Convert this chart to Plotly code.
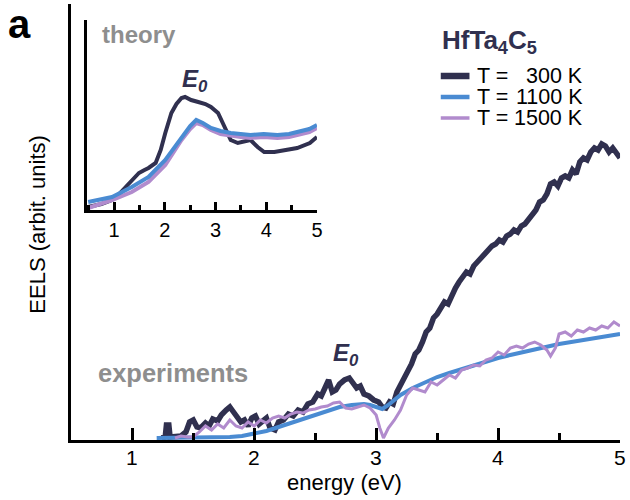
import plotly.graph_objects as go

W, H = 630, 500

# ---------------- data ----------------
series_names = ["T =   300 K", "T = 1100 K", "T = 1500 K"]
series_temps = ["300 K", "1100 K", "1500 K"]
colors = ["#30304f", "#4a8bd2", "#b18bcd"]

exp_dark_E = [1.24, 1.27, 1.28, 1.30, 1.31, 1.36, 1.40, 1.44, 1.47, 1.50, 1.53, 1.56, 1.60, 1.63, 1.66, 1.70,
              1.73, 1.77, 1.80, 1.83, 1.86, 1.89, 1.92, 1.95, 1.98, 2.01, 2.04, 2.07, 2.10, 2.13, 2.17, 2.20,
              2.24, 2.28, 2.32, 2.36, 2.40, 2.44, 2.48, 2.52, 2.55, 2.58, 2.61, 2.64, 2.67, 2.70, 2.74, 2.78,
              2.81, 2.84, 2.87, 2.90, 2.94, 2.98, 3.02, 3.05, 3.08, 3.11, 3.14, 3.17, 3.20, 3.23, 3.26, 3.29,
              3.32, 3.35, 3.38, 3.41, 3.44, 3.47, 3.50, 3.53, 3.56, 3.59, 3.62, 3.65, 3.68, 3.71, 3.74, 3.77,
              3.80, 3.83, 3.86, 3.89, 3.92, 3.95, 3.98, 4.01, 4.04, 4.07, 4.10, 4.13, 4.16, 4.19, 4.22, 4.25,
              4.28, 4.31, 4.34, 4.37, 4.40, 4.43, 4.46, 4.49, 4.52, 4.55, 4.58, 4.61, 4.64, 4.67, 4.70, 4.73,
              4.76, 4.79, 4.82, 4.85, 4.88, 4.91, 4.94, 4.97, 5.00]
exp_dark = [2, 3, 15, 15, 3, 3, 4, 8, 18, 20, 13, 12, 17, 14, 21, 19,
            25, 30, 33, 28, 23, 18, 20, 14, 22, 24, 16, 20, 22, 12, 10, 18,
            20, 26, 24, 30, 28, 36, 38, 46, 44, 52, 60, 48, 50, 56, 60, 62,
            56, 52, 54, 46, 44, 40, 38, 33, 32, 38, 36, 48, 55, 62, 70, 76,
            86, 90, 98, 108, 112, 122, 126, 132, 138, 136, 146, 152, 158, 164, 168, 166,
            174, 178, 182, 188, 190, 194, 196, 200, 198, 204, 206, 210, 208, 214, 216, 220,
            224, 230, 238, 240, 246, 256, 258, 254, 262, 264, 262, 270, 266, 278, 282, 280,
            288, 292, 290, 296, 294, 288, 292, 286, 282]

exp_blue_E = [1.20, 1.30, 1.40, 1.50, 1.60, 1.70, 1.80, 1.90, 2.00, 2.10, 2.20, 2.30, 2.40, 2.50, 2.60,
              2.70, 2.80, 2.90, 2.95, 3.00, 3.05, 3.10, 3.15, 3.20, 3.30, 3.40, 3.50, 3.60, 3.70, 3.80,
              3.90, 4.00, 4.10, 4.20, 4.30, 4.40, 4.50, 4.60, 4.70, 4.80, 4.90, 5.00]
exp_blue = [2, 2, 2, 2, 3, 3, 3, 4, 6, 9, 13, 17, 21, 26, 30,
            33, 35, 36, 35, 33, 31, 35, 40, 45, 52, 58, 63, 67, 71, 75,
            78, 82, 85, 88, 90, 93, 96, 98, 100, 103, 104, 106]

exp_purple_E = [1.35, 1.40, 1.45, 1.50, 1.55, 1.60, 1.65, 1.70, 1.75, 1.80, 1.85, 1.90, 1.95, 2.00, 2.05,
                2.10, 2.15, 2.20, 2.25, 2.30, 2.35, 2.40, 2.45, 2.50, 2.55, 2.60, 2.65, 2.70, 2.75, 2.80,
                2.85, 2.90, 2.95, 3.00, 3.03, 3.06, 3.10, 3.15, 3.20, 3.25, 3.30, 3.35, 3.40, 3.45, 3.50,
                3.55, 3.60, 3.65, 3.70, 3.75, 3.80, 3.85, 3.90, 3.95, 4.00, 4.05, 4.10, 4.15, 4.20, 4.25,
                4.30, 4.35, 4.40, 4.43, 4.47, 4.50, 4.55, 4.60, 4.65, 4.70, 4.75, 4.80, 4.85, 4.90, 4.95, 5.00]
exp_purple = [2, 4, 3, 3, 8, 14, 10, 16, 12, 20, 14, 12, 18, 14, 20,
              17, 22, 24, 22, 26, 28, 27, 30, 31, 33, 34, 37, 38, 32, 31,
              33, 35, 32, 25, 12, 2, 12, 20, 30, 45, 52, 50, 48, 58, 55,
              60, 65, 62, 70, 72, 75, 74, 80, 82, 88, 85, 92, 94, 92, 96,
              98, 95, 90, 84, 92, 106, 108, 104, 110, 108, 112, 110, 114, 112, 118, 114]

th_dark_E = [0.49, 0.75, 0.96, 1.10, 1.23, 1.36, 1.49, 1.60, 1.68, 1.82, 1.92, 2.01, 2.13, 2.23, 2.33, 2.40,
             2.52, 2.66, 2.80, 2.91, 3.05, 3.18, 3.30, 3.44, 3.56, 3.69, 3.83, 3.96, 4.16, 4.41, 4.61, 4.86, 5.00]
th_dark = [3, 6, 10, 16, 23, 30, 37, 40, 42, 47, 60, 77, 97, 106, 112, 113,
           110, 108, 106, 103, 97, 83, 70, 67, 68, 70, 63, 58, 58, 60, 62, 67, 73]

th_blue_E = [0.49, 0.96, 1.35, 1.68, 2.01, 2.33, 2.50, 2.62, 2.75, 2.91, 3.10, 3.30, 3.50, 3.69, 3.95, 4.22,
             4.45, 4.61, 4.85, 5.00]
th_blue = [8, 13, 23, 33, 50, 73, 84, 90, 87, 82, 79, 77, 76, 75, 76, 75, 76, 78, 81, 85]

th_purple_E = [0.49, 0.96, 1.35, 1.68, 2.01, 2.33, 2.50, 2.62, 2.75, 2.91, 3.10, 3.30, 3.50, 3.69, 3.95, 4.22,
               4.45, 4.61, 4.85, 5.00]
th_purple = [2, 10, 18, 28, 45, 70, 81, 87, 85, 80, 76, 74, 73, 72, 73, 72, 73, 75, 78, 82]

x_ticks = [1, 2, 3, 4, 5]
x_ticklabels = ["1", "2", "3", "4", "5"]

FONT = "Liberation Sans"


def px(x):
    return x / W


def py(y):
    return 1 - y / H


fig = go.Figure()

main_x = [exp_dark_E, exp_blue_E, exp_purple_E]
main_y = [exp_dark, exp_blue, exp_purple]
main_w = [5.5, 4, 3]
for i in range(3):
    fig.add_trace(go.Scatter(x=main_x[i], y=main_y[i], mode="lines", name=series_names[i],
                             line=dict(color=colors[i], width=main_w[i]), xaxis="x", yaxis="y",
                             showlegend=False))

ins_x = [th_dark_E, th_purple_E, th_blue_E]
ins_y = [th_dark, th_purple, th_blue]
ins_c = [colors[0], colors[2], colors[1]]
for i in range(3):
    fig.add_trace(go.Scatter(x=ins_x[i], y=ins_y[i], mode="lines",
                             line=dict(color=ins_c[i], width=4), xaxis="x2", yaxis="y2",
                             showlegend=False))

axis_common = dict(showgrid=False, zeroline=False, showline=True, linecolor="black")

fig.update_layout(
    width=W, height=H, margin=dict(l=0, r=0, t=0, b=0),
    paper_bgcolor="white", plot_bgcolor="rgba(0,0,0,0)",
    font=dict(family=FONT, color="black"),
    xaxis=dict(domain=[px(72), px(626)], range=[0.5, 5.0], linewidth=3, ticks="inside",
               ticklen=12, tickwidth=3, tickcolor="black", tickvals=x_ticks, showticklabels=False,
               minor=dict(dtick=0.5, tick0=0.5, ticks="inside", ticklen=7, tickwidth=3, tickcolor="black"),
               anchor="y", **axis_common),
    yaxis=dict(domain=[py(440), py(4)], range=[0, 436], linewidth=3, ticks="", showticklabels=False,
               anchor="x", **axis_common),
    xaxis2=dict(domain=[px(88), px(320)], range=[0.47, 5.0], linewidth=3, ticks="inside",
                ticklen=8, tickwidth=2.5, tickcolor="black", tickvals=x_ticks, ticktext=x_ticklabels,
                tickfont=dict(size=20, family=FONT),
                minor=dict(dtick=0.5, tick0=0.5, ticks="inside", ticklen=5, tickwidth=2.5, tickcolor="black"),
                anchor="y2", **axis_common),
    yaxis2=dict(domain=[py(210), py(20)], range=[0, 190], linewidth=3, ticks="", showticklabels=False,
                anchor="x2", **axis_common),
)

ann = []
for v, t in zip(x_ticks, x_ticklabels):
    ann.append(dict(x=v, xref="x", y=py(457), text=t, font=dict(size=21, family=FONT, color="black")))
ann.append(dict(x=px(20), y=py(0), yanchor="top", text="<b>a</b>",
                font=dict(size=40, family=FONT, color="black")))
ann.append(dict(x=px(348), y=py(482), text="energy (eV)", font=dict(size=22, family=FONT, color="black")))
ann.append(dict(x=px(38), y=py(224), text="EELS (arbit. units)", textangle=-90,
                font=dict(size=22, family=FONT, color="black")))
ann.append(dict(x=px(140), y=py(34), text="<b>theory</b>", font=dict(size=24, family=FONT, color="#8e8e8e")))
ann.append(dict(x=px(175), y=py(373), text="<b>experiments</b>", font=dict(size=25.5, family=FONT, color="#8e8e8e")))
e0 = "<b><i>E</i></b><sub><b><i>0</i></b></sub>"
ann.append(dict(x=px(197), y=py(80), text=e0, font=dict(size=24, family=FONT, color=colors[0])))
ann.append(dict(x=px(349), y=py(354), text=e0, font=dict(size=24, family=FONT, color=colors[0])))
ann.append(dict(x=px(444), y=py(42), xanchor="left", text="<b>HfTa<sub>4</sub>C<sub>5</sub></b>",
                font=dict(size=26, family=FONT, color=colors[0])))
row_y = [76, 97, 118]
for i in range(3):
    ann.append(dict(x=px(481), y=py(row_y[i]), xanchor="left", text="T =",
                    font=dict(size=21.5, family=FONT, color="black"), borderpad=0))
    ann.append(dict(x=px(590), y=py(row_y[i]), xanchor="right", text=series_temps[i],
                    font=dict(size=21.5, family=FONT, color="black"), borderpad=0))
for a in ann:
    a.setdefault("xanchor", "center")
    a.setdefault("yanchor", "middle")
    a.setdefault("xref", "paper")
    a.update(yref="paper", showarrow=False)
fig.update_layout(annotations=ann)

sw_w = [6.5, 4.5, 3.5]
shapes = []
for i in range(3):
    shapes.append(dict(type="line", xref="paper", yref="paper", x0=px(445), x1=px(474),
                       y0=py(row_y[i]), y1=py(row_y[i]), line=dict(color=colors[i], width=sw_w[i])))
fig.update_layout(shapes=shapes)

fig.write_html("out.html")
